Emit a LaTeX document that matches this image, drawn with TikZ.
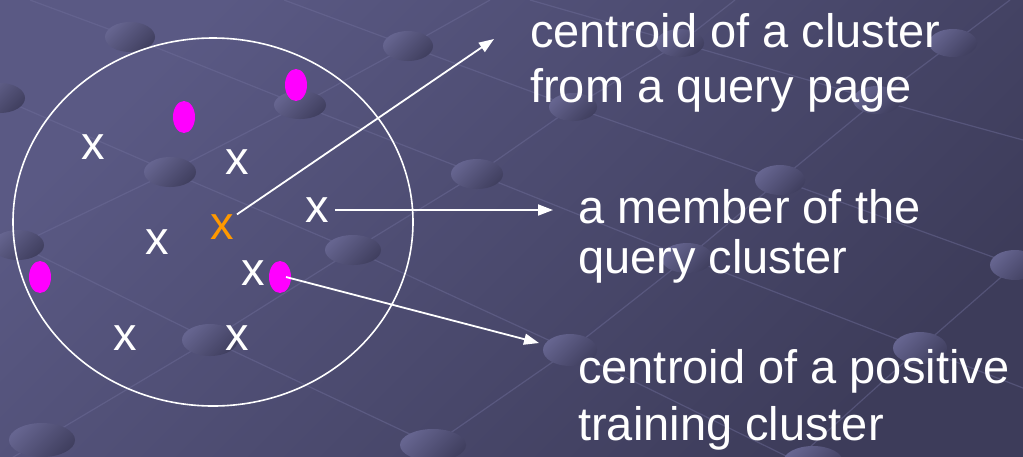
\documentclass[tikz,border=0pt]{standalone}
\usepackage{fontspec}
\setmainfont{Liberation Sans}
\usetikzlibrary{arrows.meta,shapes.geometric}
\definecolor{bgA}{RGB}{90,89,132}
\definecolor{bgB}{RGB}{61,60,90}
\definecolor{dotA}{RGB}{102,101,144}
\definecolor{dotB}{RGB}{64,63,95}
\definecolor{gridc}{RGB}{112,111,155}
\definecolor{orangex}{RGB}{255,153,0}
\definecolor{pinkdot}{RGB}{255,0,255}
\begin{document}
\begin{tikzpicture}[x=1pt,y=-1pt,
  lbl/.style={text=white,font=\fontsize{47}{55}\selectfont,inner sep=0pt,anchor=base west,align=left},
  member/.style={text=white,font=\fontsize{47}{55}\selectfont,inner sep=0pt},
  centre/.style={member,text=orangex},
  posdot/.style={ellipse,fill=pinkdot,minimum width=22pt,minimum height=32pt,inner sep=0pt},
  arr/.style={draw=white,line width=1.8pt,-{Triangle[length=15pt,width=11pt]}},
  gridline/.style={draw=gridc,line width=1.2pt,opacity=0.45},
  bgdot/.style={top color=dotA,bottom color=dotB,shading angle=45}
]
\useasboundingbox (0,0) rectangle (1023,456);
\shade[top color=bgA,bottom color=bgB,shading angle=45] (0,0) rectangle (1023,456);
% background perspective grid
\draw[gridline] (30,0)--(130,37)--(300,105)--(477,174)--(687,258)--(920,348)--(1023,388);
\draw[gridline] (0,98)--(170,172)--(353,250)--(570,350)--(786,456);
\draw[gridline] (0,236)--(18,245)--(210,340)--(433,445)--(455,456);
\draw[gridline] (284,0)--(408,46)--(573,107)--(780,180)--(1015,265)--(1023,268);
\draw[gridline] (530,0)--(680,43)--(877,100)--(1023,140);
\draw[gridline] (0,254)--(18,245)--(170,172)--(300,105)--(408,46)--(490,0);
\draw[gridline] (0,465)--(42,440)--(210,340)--(353,250)--(477,174)--(573,107)--(680,43)--(735,0);
\draw[gridline] (420,456)--(433,445)--(570,350)--(687,258)--(780,180)--(877,100)--(953,43)--(1010,0);
\draw[gridline] (800,456)--(920,348)--(1015,265)--(1023,258);
\foreach \x/\y/\w/\h in {130/37/25/15, 408/46/25/15, 0/98/25/15, 300/105/26/14, 170/172/26/15,
  477/174/26/15, 18/245/26/15, 353/250/28/15, 210/340/28/16, 42/440/33/17, 433/445/33/16,
  680/43/24/14, 953/43/24/14, 573/107/24/14, 877/100/24/14, 780/180/25/15, 687/258/26/15,
  570/350/27/16, 920/348/27/16, 1015/265/25/15, 813/462/30/16}
  \shade[bgdot] (\x,\y) ellipse [x radius=\w pt, y radius=\h pt];
% cluster boundary
\draw[white,line width=1.6pt] (213,222) ellipse [x radius=200pt, y radius=184pt];
% members
\node[member] (m1) at (93,147) {x};
\node[member] (m2) at (237,162) {x};
\node[member] (m3) at (317,210) {x};
\node[member] (m4) at (157,242) {x};
\node[member] (m5) at (253,273) {x};
\node[member] (m6) at (125,338) {x};
\node[member] (m7) at (237,338) {x};
\node[centre] (c) at (222,227) {x};
% positive training centroids
\node[posdot] (p1) at (296,85) {};
\node[posdot] (p2) at (184,117) {};
\node[posdot] (p3) at (40,277) {};
\node[posdot] (p4) at (280,277) {};
% labels (base anchor = baseline of last line)
\node[lbl] (t1) at (530,102) {centroid of a cluster\\from a query page};
\node[lbl] (t2) at (578,273) {a member of the\\[-5pt]query cluster};
\node[lbl] (t3) at (578,440) {centroid of a positive\\[2pt]training cluster};
% arrow ends
\coordinate (e1) at (494,39);
\coordinate (e2) at (553,210);
\coordinate (e3) at (539,343);
\draw[arr] ([xshift=3pt]c.north east) -- (e1);
\draw[arr] ([xshift=6pt]m3.east) -- (e2);
\draw[arr] ([xshift=6pt]p4.center) -- (e3);
\end{tikzpicture}
\end{document}
